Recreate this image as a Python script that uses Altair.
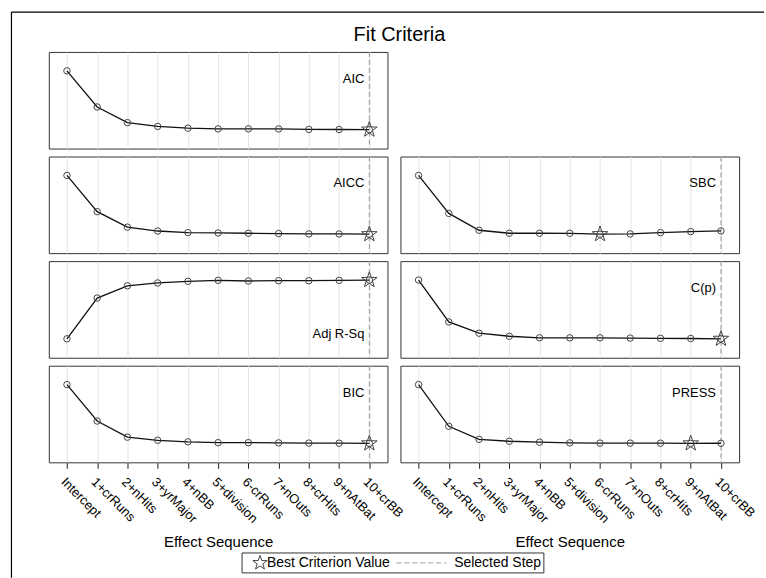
import altair as alt
import pandas as pd

# ---------------- data ----------------
steps = ["Intercept", "1+crRuns", "2+nHits", "3+yrMajor", "4+nBB", "5+division",
         "6-crRuns", "7+nOuts", "8+crHits", "9+nAtBat", "10+crBB"]

aic = [-60.0, -189.4, -245.4, -258.8, -265.2, -267.8, -267.6, -267.9, -269.6, -270.0, -270.4]
aicc = [-59.8, -188.8, -244.0, -257.8, -263.4, -264.7, -265.8, -266.8, -268.2, -268.3, -269.2]
adj_rsq = [0.0, 0.4057, 0.5275, 0.5562, 0.5725, 0.5821, 0.5754, 0.5783, 0.5783, 0.5821, 0.5850]
bic = [-58.0, -184.0, -239.8, -250.6, -256.0, -258.9, -258.8, -259.6, -260.3, -260.7, -261.4]
sbc = [-56.3, -178.9, -233.3, -242.9, -243.0, -243.1, -246.1, -245.1, -240.9, -237.7, -235.5]
cp = [380.0, 117.0, 46.3, 27.0, 17.4, 17.0, 17.2, 15.5, 14.2, 12.9, 11.0]
press = [210.0, 127.5, 101.7, 97.9, 96.0, 94.7, 94.2, 94.1, 94.0, 93.6, 93.9]

criteria = ["AIC", "AICC", "Adj R-Sq", "BIC", "SBC", "C(p)", "PRESS"]
series = [aic, aicc, adj_rsq, bic, sbc, cp, press]
best_steps = ["10+crBB", "10+crBB", "10+crBB", "10+crBB", "6-crRuns", "10+crBB", "9+nAtBat"]
selected_step = "10+crBB"

chart_title = "Fit Criteria"
x_title = "Effect Sequence"
legend_labels = ["Best Criterion Value", "Selected Step"]

# ---------------- styling ----------------
W, H = 340, 97
FONT = "Liberation Sans"
STAR = ("M0,-1L0.235,-0.324L0.951,-0.309L0.380,0.124L0.588,0.809L0,0.4"
        "L-0.588,0.809L-0.380,0.124L-0.951,-0.309L-0.235,-0.324Z")
GRID = "#e4e4e4"


def x_enc(bottom):
    if bottom:
        axis = alt.Axis(title=x_title, labelAngle=45, labelAlign="left",
                        labelBaseline="top", labelFontSize=13, labelPadding=7,
                        labelColor="#000", ticks=True, tickSize=6, tickColor="#222",
                        domain=False, grid=True, gridColor=GRID,
                        titleFontSize=15, titleFontWeight="normal", titleColor="#000",
                        titleY=80, titleBaseline="middle")
    else:
        axis = alt.Axis(title=None, labels=False, ticks=False, domain=False,
                        grid=True, gridColor=GRID)
    return alt.X("step:N", sort=steps,
                 scale=alt.Scale(type="point", domain=steps, padding=0.6), axis=axis)


def panel(name, values, best, bottom, label_at_bottom=False, extra=None):
    df = pd.DataFrame({"step": steps, "value": values})
    x = x_enc(bottom)
    y = alt.Y("value:Q", scale=alt.Scale(zero=False, nice=False, padding=19), axis=None)
    base = alt.Chart(df)
    sel = alt.Chart(pd.DataFrame({"step": [selected_step]})).mark_rule(
        color="#9a9a9a", strokeDash=[5, 3], strokeWidth=1).encode(x=x)
    line = base.mark_line(color="#111", strokeWidth=1.3).encode(x=x, y=y)
    pts = base.mark_point(shape="circle", filled=False, size=42, color="#444",
                          strokeWidth=1, opacity=1).encode(x=x, y=y)
    star = base.transform_filter(alt.datum.step == best).mark_point(
        shape=STAR, filled=False, size=270, color="#444", strokeWidth=1,
        opacity=1).encode(x=x, y=y)
    lab = alt.Chart(pd.DataFrame({"step": [steps[-1]], "name": [name]})).mark_text(
        align="right", baseline="middle", dx=-5, fontSize=13, color="#000").encode(
        x=x, y=alt.value(H - 24 if label_at_bottom else 27), text="name:N")
    layers = [sel, line, pts, star, lab]
    if extra:
        layers += extra
    return alt.layer(*layers).properties(width=W, height=H)


# decoration: outer frame and title (drawn relative to the first panel)
deco_df = pd.DataFrame({"t": [chart_title]})
frame_top = alt.Chart(deco_df).mark_rule(color="#000", strokeWidth=1.2).encode(
    x=alt.value(-37.5), x2=alt.value(718), y=alt.value(-40), y2=alt.value(-40))
frame_left = alt.Chart(deco_df).mark_rule(color="#000", strokeWidth=1.2).encode(
    x=alt.value(-37.5), x2=alt.value(-37.5), y=alt.value(-40), y2=alt.value(528))
title_txt = alt.Chart(deco_df).mark_text(
    fontSize=20, align="center", baseline="middle", color="#000").encode(
    x=alt.value(352), y=alt.value(-17), text="t:N")

# legend (drawn relative to the bottom-left panel)
leg_df = pd.DataFrame({"a": [legend_labels[0]], "b": [legend_labels[1]]})
leg_box = alt.Chart(leg_df).mark_rect(fillOpacity=0, stroke="#333", strokeWidth=1).encode(
    x=alt.value(194), x2=alt.value(497), y=alt.value(188), y2=alt.value(208))
leg_star = alt.Chart(leg_df).mark_point(shape=STAR, filled=False, size=230, color="#444",
                                        strokeWidth=1, opacity=1).encode(
    x=alt.value(212), y=alt.value(198))
leg_t1 = alt.Chart(leg_df).mark_text(align="left", baseline="middle", fontSize=14,
                                     color="#000").encode(
    x=alt.value(219), y=alt.value(198), text="a:N")
leg_dash = alt.Chart(leg_df).mark_rule(color="#9a9a9a", strokeDash=[5, 3]).encode(
    x=alt.value(349), x2=alt.value(399), y=alt.value(198), y2=alt.value(198))
leg_t2 = alt.Chart(leg_df).mark_text(align="left", baseline="middle", fontSize=14,
                                     color="#000").encode(
    x=alt.value(407), y=alt.value(198), text="b:N")

spacer = alt.Chart(pd.DataFrame({"v": [0]})).mark_point(opacity=0).encode(
    x=alt.value(0), y=alt.value(0)).properties(
    width=W, height=H, view=alt.ViewBackground(stroke="transparent"))

p_aic = panel(criteria[0], series[0], best_steps[0], False,
              extra=[frame_top, frame_left, title_txt])
p_aicc = panel(criteria[1], series[1], best_steps[1], False)
p_adj = panel(criteria[2], series[2], best_steps[2], False, label_at_bottom=True)
p_bic = panel(criteria[3], series[3], best_steps[3], True,
              extra=[leg_box, leg_star, leg_t1, leg_dash, leg_t2])
p_sbc = panel(criteria[4], series[4], best_steps[4], False)
p_cp = panel(criteria[5], series[5], best_steps[5], False)
p_press = panel(criteria[6], series[6], best_steps[6], True)

chart = alt.concat(
    p_aic, spacer, p_aicc, p_sbc, p_adj, p_cp, p_bic, p_press,
    columns=2, spacing={"row": 8, "column": 13}, bounds="flush"
).properties(
    padding={"left": 10, "top": 9, "right": 0, "bottom": 0}
).configure(
    font=FONT
).configure_view(
    stroke="#333", strokeWidth=1
)

chart.save("out.html", embed_options={"renderer": "svg", "actions": False})
